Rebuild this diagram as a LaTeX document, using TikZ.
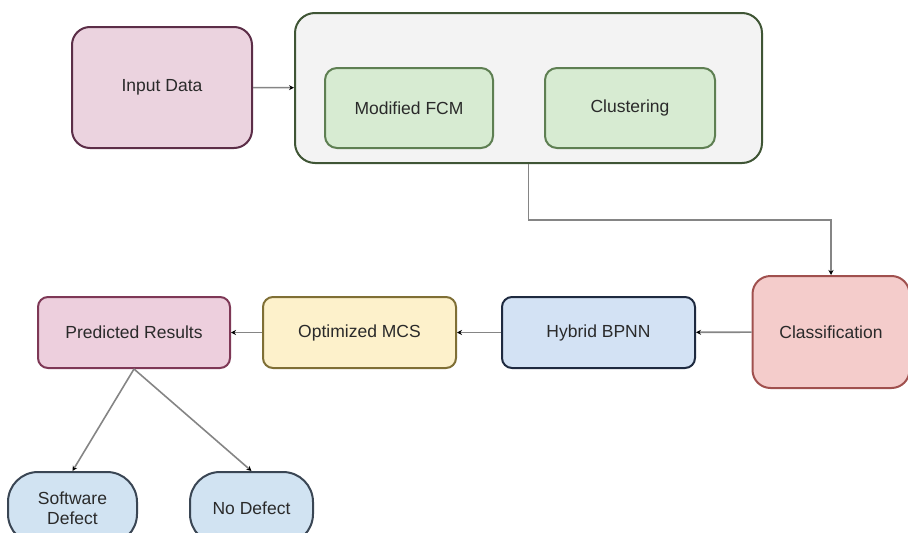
\documentclass[tikz,border=0pt]{standalone}
\usepackage{fontspec}
\setmainfont{Liberation Sans}
\usetikzlibrary{arrows.meta}
\definecolor{inFill}{HTML}{EBD3DF}\definecolor{inLine}{HTML}{5C2E48}
\definecolor{mainFill}{HTML}{F3F3F3}\definecolor{mainLine}{HTML}{3F5535}
\definecolor{grFill}{HTML}{D7EBD2}\definecolor{grLine}{HTML}{5E7F52}
\definecolor{clFill}{HTML}{F4CCCB}\definecolor{clLine}{HTML}{A0504E}
\definecolor{hyFill}{HTML}{D3E2F4}\definecolor{hyLine}{HTML}{1E2A40}
\definecolor{mcFill}{HTML}{FDF1CB}\definecolor{mcLine}{HTML}{7F6F35}
\definecolor{prFill}{HTML}{EDCFDD}\definecolor{prLine}{HTML}{7E3856}
\definecolor{piFill}{HTML}{D1E3F2}\definecolor{piLine}{HTML}{3A4654}
\definecolor{txt}{HTML}{2A2A2A}
\definecolor{conn}{HTML}{858585}
\tikzset{
  box/.style={draw, line width=2pt, rounded corners=12pt, inner sep=0pt, align=center,
    text=txt, font=\fontsize{17.5}{20}\selectfont},
  conn/.style={draw=conn, line width=1.6pt, -{Stealth[length=5pt,width=5pt,black]}},
}
\begin{document}
\begin{tikzpicture}[x=1pt,y=-1pt]
\useasboundingbox (0,0) rectangle (908,533);
\node[box, fill=mainFill, draw=mainLine, rounded corners=20pt, minimum width=467pt, minimum height=150pt] (main) at (528.5,88) {};
\node[box, fill=inFill, draw=inLine, rounded corners=18pt, minimum width=180pt, minimum height=121pt] (input) at (162,87.5) {Input Data};
\node[box, fill=grFill, draw=grLine, minimum width=168pt, minimum height=80pt] (fcm) at (409,108) {Modified FCM};
\node[box, fill=grFill, draw=grLine, minimum width=170pt, minimum height=80pt] (clus) at (630,108) {Clustering};
\node[box, fill=clFill, draw=clLine, rounded corners=18pt, minimum width=157pt, minimum height=112pt] (class) at (831,332) {Classification};
\node[box, fill=hyFill, draw=hyLine, rounded corners=10pt, minimum width=193pt, minimum height=71pt] (hybrid) at (598.5,332.5) {Hybrid BPNN};
\node[box, fill=mcFill, draw=mcLine, rounded corners=10pt, minimum width=193pt, minimum height=71pt] (mcs) at (359.5,332.5) {Optimized MCS};
\node[box, fill=prFill, draw=prLine, rounded corners=10pt, minimum width=192pt, minimum height=71pt] (pred) at (134,332.5) {Predicted Results};
\node[box, fill=piFill, draw=piLine, rounded corners=30pt, minimum width=129pt, minimum height=72pt] (sw) at (72.5,508) {Software\\Defect};
\node[box, fill=piFill, draw=piLine, rounded corners=30pt, minimum width=123pt, minimum height=72pt] (nod) at (251.5,508) {No Defect};
\coordinate (turn) at (831,220);
\draw[conn] (input) -- (main);
\draw[conn] (main.south) |- (turn) -- (class.north);
\draw[conn] (class) -- (hybrid);
\draw[conn] (hybrid) -- (mcs);
\draw[conn] (mcs) -- (pred);
\draw[conn] (pred.south) -- (sw.north);
\draw[conn] (pred.south) -- (nod.north);
\end{tikzpicture}
\end{document}
